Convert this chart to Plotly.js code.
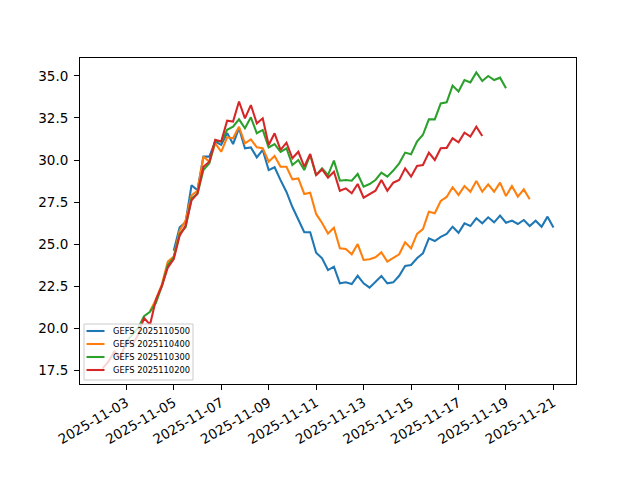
<!DOCTYPE html>
<html>
<head>
<meta charset="utf-8">
<script src="https://cdn.plot.ly/plotly-3.0.1.min.js"></script>
<style>html,body{margin:0;padding:0;background:#fff;}</style>
</head>
<body>
<div id="chart" style="width:640px;height:480px;"></div>
<script>
// Run names and their start (init) times; values are 6-hourly from init
const runNames = ["GEFS 2025110500", "GEFS 2025110400", "GEFS 2025110300", "GEFS 2025110200"];
const runStarts = ["2025-11-05T00:00:00Z", "2025-11-04T00:00:00Z", "2025-11-03T00:00:00Z", "2025-11-02T00:00:00Z"];
const stepHours = 6;

const run20251105 = [24.6, 26.0, 26.3, 28.5, 28.2, 30.2, 30.2, 31.1, 30.9, 31.6,
  30.95, 31.9, 30.7, 30.75, 30.16, 30.6, 29.4, 29.57, 28.8, 28.1,
  27.2, 26.5, 25.7, 25.7, 24.48, 24.15, 23.45, 23.65, 22.66, 22.72,
  22.62, 23.11, 22.66, 22.4, 22.76, 23.1, 22.66, 22.72, 23.11, 23.7,
  23.75, 24.15, 24.45, 25.34, 25.18, 25.43, 25.6, 26.03, 25.67, 26.23,
  26.07, 26.53, 26.23, 26.59, 26.29, 26.69, 26.27, 26.39, 26.19, 26.43,
  26.07, 26.39, 26.03, 26.63, 25.99];

const run20251104 = [21.0, 21.7, 22.6, 23.95, 24.25, 25.8, 26.4, 27.9, 28.17, 30.2,
  29.9, 30.99, 30.49, 31.35, 31.29, 31.98, 30.99, 31.23, 30.75, 30.7,
  29.9, 30.24, 29.6, 29.6, 28.85, 28.9, 27.98, 28.05, 26.79, 26.25,
  25.62, 25.97, 24.74, 24.7, 24.39, 25.0, 24.05, 24.09, 24.21, 24.5,
  23.95, 24.18, 24.39, 25.1, 24.74, 25.6, 25.89, 26.92, 26.83, 27.56,
  27.8, 28.38, 27.92, 28.45, 28.11, 28.75, 28.11, 28.55, 28.11, 28.65,
  27.86, 28.45, 27.82, 28.25, 27.66];

const run20251103 = [19.2, 19.6, 20.0, 20.7, 20.97, 21.5, 22.5, 23.75, 24.2, 25.6,
  26.0, 27.7, 28.0, 29.4, 29.8, 31.15, 31.1, 31.8, 31.98, 32.42,
  31.89, 32.54, 31.59, 31.79, 30.75, 30.95, 30.49, 30.7, 29.7, 30.0,
  29.4, 30.3, 29.1, 29.5, 29.1, 29.96, 28.77, 28.81, 28.77, 29.17,
  28.41, 28.57, 28.81, 29.25, 29.01, 29.37, 29.8, 30.44, 30.34, 31.09,
  31.5, 32.42, 32.42, 33.37, 33.43, 34.43, 34.08, 34.76, 34.62, 35.21,
  34.7, 35.0, 34.76, 34.9, 34.27];

const run20251102 = [17.6, 18.0, 18.6, 18.2, 19.2, 19.0, 19.6, 20.6, 20.2, 21.7,
  22.5, 23.6, 24.1, 25.5, 26.1, 27.6, 28.0, 29.6, 29.9, 31.2,
  31.1, 32.34, 32.29, 33.48, 32.48, 33.27, 32.18, 32.48, 30.89, 31.59,
  30.6, 31.03, 30.1, 30.49, 29.6, 30.36, 29.1, 29.44, 28.95, 29.3,
  28.17, 28.31, 28.02, 28.57, 27.76, 27.98, 28.17, 28.81, 28.17, 28.65,
  28.81, 29.5, 29.01, 29.64, 29.7, 30.44, 30.0, 30.7, 30.72, 31.29,
  31.05, 31.63, 31.39, 31.98, 31.43];

const runValues = [run20251105, run20251104, run20251103, run20251102];
const runColors = ["#1f77b4", "#ff7f0e", "#2ca02c", "#d62728"];

function timesFor(start, n) {
  const t0 = Date.parse(start);
  const out = [];
  for (let i = 0; i < n; i++) {
    out.push(new Date(t0 + i * stepHours * 3600 * 1000).toISOString().slice(0, 19).replace('T', ' '));
  }
  return out;
}

const traces = runNames.map((name, k) => ({
  type: 'scatter',
  mode: 'lines',
  name: name,
  x: timesFor(runStarts[k], runValues[k].length),
  y: runValues[k],
  line: {color: runColors[k], width: 2.08},
  hoverinfo: 'skip'
}));

const W = 640, H = 480;
const M = {l: 80, r: 64, t: 58, b: 96};
const PW = W - M.l - M.r, PH = H - M.t - M.b;
const px = v => (v - M.l) / PW;          // pixel x -> paper x
const py = v => (H - M.b - v) / PH;      // pixel y -> paper y

// Matplotlib-style legend (lower left), built from shapes + text
const shapes = [{
  type: 'rect', xref: 'paper', yref: 'paper', layer: 'above',
  x0: px(84), x1: px(193), y0: py(380), y1: py(324),
  fillcolor: 'rgba(255,255,255,0.8)', line: {color: '#cccccc', width: 1}
}];
const annotations = [];
const rowY = [331, 344, 357, 370];
runNames.forEach((name, k) => {
  shapes.push({
    type: 'line', xref: 'paper', yref: 'paper', layer: 'above',
    x0: px(86.5), x1: px(104.5), y0: py(rowY[k]), y1: py(rowY[k]),
    line: {color: runColors[k], width: 2.08}
  });
  annotations.push({
    xref: 'paper', yref: 'paper', x: px(111), y: py(rowY[k]),
    xanchor: 'left', yanchor: 'middle', showarrow: false,
    text: name, font: {family: 'DejaVu Sans, sans-serif', size: 8.3, color: '#000'}
  });
});

const font = "DejaVu Sans, sans-serif";
const layout = {
  width: W, height: H,
  paper_bgcolor: '#ffffff', plot_bgcolor: '#ffffff',
  margin: {l: M.l, r: M.r, t: M.t, b: M.b, pad: 0},
  showlegend: false,
  font: {family: font, size: 13.5, color: '#000000'},
  xaxis: {
    type: 'date',
    range: ['2025-11-01 01:12', '2025-11-21 22:48'],
    tick0: '2025-11-03', dtick: 2 * 86400000,
    tickformat: '%Y-%m-%d',
    tickangle: -30,
    showgrid: false, zeroline: false,
    showline: true, mirror: true, linecolor: '#000', linewidth: 1,
    ticks: 'outside', ticklen: 5, tickwidth: 1, tickcolor: '#000',
    tickfont: {family: font, size: 13.5, color: '#000'}
  },
  yaxis: {
    range: [16.67, 36.07],
    tick0: 17.5, dtick: 2.5, tickformat: '.1f',
    showgrid: false, zeroline: false,
    showline: true, mirror: true, linecolor: '#000', linewidth: 1,
    ticks: 'outside', ticklen: 5, tickwidth: 1, tickcolor: '#000',
    ticklabelstandoff: 3,
    tickfont: {family: font, size: 13.5, color: '#000'}
  },
  shapes: shapes,
  annotations: annotations
};

Plotly.newPlot('chart', traces, layout, {staticPlot: true, displayModeBar: false});
</script>
</body>
</html>
